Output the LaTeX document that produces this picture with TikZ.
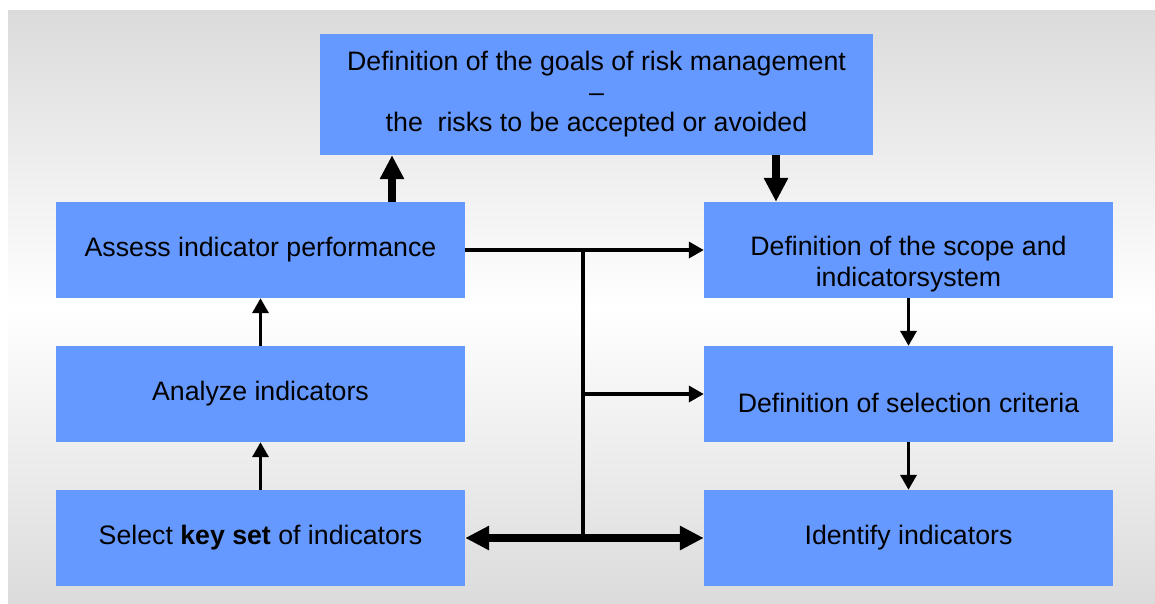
\documentclass[tikz,border=0pt]{standalone}
\usepackage{fontspec}
\setmainfont{Liberation Sans}
\usetikzlibrary{arrows.meta}
\definecolor{boxblue}{RGB}{102,153,255}
\definecolor{panelgray}{RGB}{219,219,219}
% text set lower inside its box, box size kept
\newcommand{\lowered}[2]{\raisebox{-#1}[\height][\depth]{\begin{tabular}{@{}c@{}}#2\end{tabular}}}

\begin{document}
\begin{tikzpicture}[x=1pt,y=-1pt,
  box/.style={fill=boxblue, minimum width=409pt, minimum height=96pt, inner sep=0pt,
    align=center, font=\fontsize{26.7}{30.5}\selectfont},
  link/.style={line width=3.5pt, -{Triangle[length=15pt, width=16pt]}},
  biglink/.style={line width=8pt, -{Triangle[length=24pt, width=23pt]}}]
\useasboundingbox (0,0) rectangle (1155,603);
\shade[top color=panelgray, bottom color=panelgray, middle color=white] (8,10) rectangle (1155,603);

% boxes
\node[box, minimum width=553pt, minimum height=121pt] (goals) at (596.5,94.5)
  {Definition of the goals of risk management\\--\\the\ \ risks to be accepted or avoided};
\node[box] (assess) at (260.5,250) {Assess indicator performance};
\node[box] (analyze) at (260.5,394) {Analyze indicators};
\node[box] (keyset) at (260.5,538) {Select \textbf{key set} of indicators};
\node[box] (scope) at (908.5,250) {\lowered{15pt}{Definition of the scope and\\indicatorsystem}};
\node[box] (criteria) at (908.5,394) {\lowered{12pt}{Definition of selection criteria}};
\node[box] (identify) at (908.5,538) {Identify indicators};

\coordinate (up) at (392,0);
\coordinate (down) at (776,0);
\coordinate (split) at (583,0);

% arrows
\draw[biglink] (assess.north -| up) -- (goals.south -| up);
\draw[biglink] (goals.south -| down) -- (scope.north -| down);
\draw[link] (keyset) -- (analyze);
\draw[link] (analyze) -- (assess);
\draw[link] (scope) -- (criteria);
\draw[link] (criteria) -- (identify);
\draw[link] (assess.east) -- (scope.west);
\draw[line width=3.5pt] (assess.east -| split) -- (keyset.east -| split);
\draw[link] (criteria.west -| split) -- (criteria.west);
\draw[biglink, {Triangle[length=24pt, width=23pt]}-{Triangle[length=24pt, width=23pt]}] (keyset.east) -- (identify.west);
\end{tikzpicture}
\end{document}
